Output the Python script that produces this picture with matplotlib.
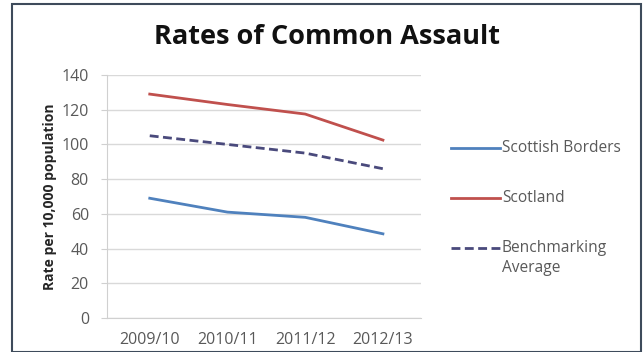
import matplotlib
matplotlib.use("Agg")
import matplotlib.pyplot as plt
from matplotlib.patches import Rectangle
from matplotlib.lines import Line2D

years = ["2009/10", "2010/11", "2011/12", "2012/13"]
borders = [69, 61, 58, 48.5]
scotland = [129, 123, 117.5, 102.5]
benchmark = [105, 100, 95, 86]
yticks = [0, 20, 40, 60, 80, 100, 120, 140]
series_names = ["Scottish Borders", "Scotland", "Benchmarking", "Average"]

plt.rcParams['font.family'] = ['Open Sans', 'DejaVu Sans']

W, H = 643, 352
fig = plt.figure(figsize=(W / 100, H / 100), dpi=100)
fig.patch.set_facecolor('white')
fig.patches.append(Rectangle((11.5 / W, 0.5 / H), (641 - 11.5) / W, (348 - 0.5) / H,
                             transform=fig.transFigure, fill=False,
                             edgecolor='#3e4b5b', linewidth=1.5))

c_b, c_s, c_m = '#4F81BD', '#C0504D', '#4a4a7c'
dash = (0, (3.2, 1.6))

ax = fig.add_axes([107 / W, 34 / H, 314 / W, 243 / H])
x = list(range(len(years)))
ax.plot(x, borders, color=c_b, lw=2.0)
ax.plot(x, scotland, color=c_s, lw=2.0)
ax.plot(x, benchmark, color=c_m, lw=2.0, ls=dash)

ax.set_xlim(-0.55, 3.49)
ax.set_ylim(0, 140)
ax.set_yticks(yticks)
ax.set_xticks(x)
ax.set_xticklabels(years)
ax.grid(axis='y', color='#d9d9d9', lw=1)
ax.set_axisbelow(True)
for s in ['top', 'right']:
    ax.spines[s].set_visible(False)
for s in ['left', 'bottom']:
    ax.spines[s].set_color('#d0d0d0')
ax.tick_params(axis='y', length=4, color='#d0d0d0', labelcolor='#595959', labelsize=11.5, pad=9)
ax.tick_params(axis='x', length=0, labelcolor='#595959', labelsize=11.5, pad=10)
ax.set_ylabel('Rate per 10,000 population', fontsize=10, fontweight='bold', color='#262626', labelpad=3)

fig.text(327 / W, 1 - 37 / H, 'Rates of Common Assault', ha='center', va='center',
         fontsize=19.5, fontweight='bold', color='#111111')

# legend (manual, to match the layout of the original)
rows = [(148, c_b, '-'), (198, c_s, '-'), (248, c_m, dash)]
for (yy, col, st), name in zip(rows, series_names[:3]):
    fig.add_artist(Line2D([451 / W, 500 / W], [1 - yy / H, 1 - yy / H], color=col, lw=2.0, ls=st,
                          transform=fig.transFigure))
    fig.text(502 / W, 1 - yy / H, name, ha='left', va='center', fontsize=11.2, color='#595959')
fig.text(502 / W, 1 - 268 / H, series_names[3], ha='left', va='center', fontsize=11.2, color='#595959')

fig.savefig('out.png', dpi=100)
